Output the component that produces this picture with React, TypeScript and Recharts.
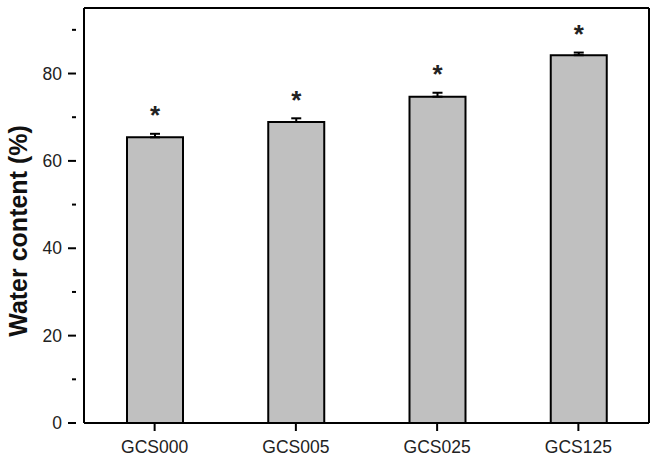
import { BarChart, Bar, XAxis, YAxis, ErrorBar, LabelList } from 'recharts';

const samples = ['GCS000', 'GCS005', 'GCS025', 'GCS125'];
const waterContent = [65.4, 68.9, 74.7, 84.2];
const waterError = [0.8, 0.85, 0.9, 0.6];
const yTicks = [0, 10, 20, 30, 40, 50, 60, 70, 80, 90];

const data = samples.map((name, i) => ({
  name,
  value: waterContent[i],
  err: [0, waterError[i]],
}));

const FONT = '"Liberation Sans", Arial, sans-serif';

function YTick({ x, y, payload }: any) {
  const major = payload.value % 20 === 0;
  return (
    <g>
      <line x1={x} x2={x + (major ? 8 : 4)} y1={y} y2={y} stroke="#000" strokeWidth={2} transform={`translate(${major ? -8 : -4},0)`} />
      {major && (
        <text x={x - 14} y={y} dy="0.355em" textAnchor="end" fontSize={17.5} fontFamily={FONT} fill="#222">
          {payload.value}
        </text>
      )}
    </g>
  );
}

function Star({ x, y, width, height, value, index }: any) {
  const errPx = (waterError[index] * height) / value;
  return (
    <text x={x + width / 2} y={y - errPx - 9.5} textAnchor="middle" fontSize={26} fontWeight="bold" fontFamily={FONT} fill="#222">
      *
    </text>
  );
}

export default function App() {
  return (
    <div style={{ position: 'absolute', left: 0, top: 0, background: '#fff' }}>
      <BarChart width={659} height={461} data={data} margin={{ top: 7, right: 9, left: 0, bottom: 0 }}>
        <XAxis
          dataKey="name"
          height={38}
          tickSize={8}
          tickMargin={10}
          axisLine={{ stroke: '#000', strokeWidth: 2 }}
          tickLine={{ stroke: '#000', strokeWidth: 2 }}
          tick={{ fontSize: 17.5, fontFamily: FONT, fill: '#222' }}
        />
        <XAxis xAxisId="top" dataKey="name" orientation="top" height={1} tick={false} tickLine={false} axisLine={{ stroke: '#000', strokeWidth: 2 }} />
        <YAxis
          domain={[0, 95]}
          ticks={yTicks}
          width={84}
          tickLine={false}
          axisLine={{ stroke: '#000', strokeWidth: 2 }}
          tick={<YTick />}
          label={{
            value: 'Water content (%)',
            angle: -90,
            position: 'insideLeft',
            content: () => (
              <text x={27} y={231} transform="rotate(-90 27 231)" textAnchor="middle" fontSize={25} fontWeight="bold" fontFamily={FONT} fill="#111">
                Water content (%)
              </text>
            ),
          }}
        />
        <YAxis yAxisId="right" orientation="right" domain={[0, 95]} width={1} tick={false} tickLine={false} axisLine={{ stroke: '#000', strokeWidth: 2 }} />
        <Bar dataKey="value" barSize={56} fill="#c0c0c0" stroke="#000" strokeWidth={2} isAnimationActive={false}>
          <ErrorBar dataKey="err" width={5} stroke="#000" strokeWidth={2} direction="y" />
          <LabelList dataKey="value" content={<Star />} />
        </Bar>
      </BarChart>
    </div>
  );
}
